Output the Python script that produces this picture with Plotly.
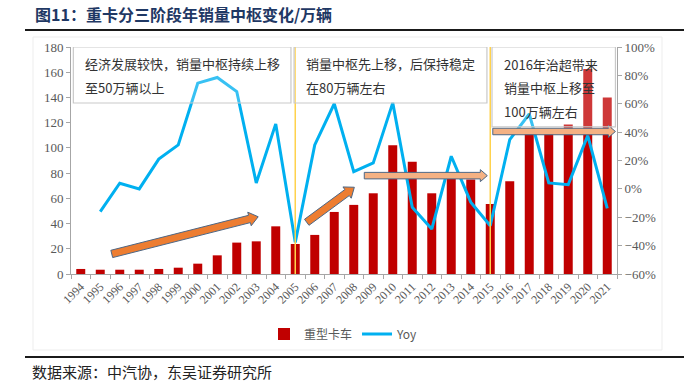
import math
import plotly.graph_objects as go

years = list(range(1994, 2022))
sales = [4.0, 3.4, 3.4, 3.4, 4.0, 5.0, 8.2, 14.8, 24.9, 25.9,
         37.8, 23.8, 31.0, 49.2, 54.8, 64.0, 102.0, 89.0, 64.0, 77.5,
         75.0, 55.5, 73.5, 111.5, 114.5, 118.5, 162.5, 140.0]
yoy = [None, -0.16, 0.04, 0.0, 0.21, 0.31, 0.745, 0.785, 0.686, 0.042,
       0.458, -0.377, 0.31, 0.60, 0.122, 0.183, 0.606, -0.13, -0.283, 0.23,
       -0.094, -0.26, 0.347, 0.528, 0.042, 0.03, 0.376, -0.137]
tick_labels = [str(y) for y in years]

# plot geometry (pixels)
L, R, T, B = 71, 67, 47, 110
W, H = 684, 384
PW, PH = W - L - R, H - T - B
XR = [1993.5, 2021.5]
YR = [0, 180]
PXX = PW / (XR[1] - XR[0])
PXY = PH / (YR[1] - YR[0])


def px_x(p):
    return (p - L) / PW


def px_y(p):
    return (H - B - p) / PH


fig = go.Figure()
fig.add_trace(go.Bar(x=years, y=sales, name="重型卡车", marker_color="#C00000",
                     marker_line_width=0))
fig.add_trace(go.Scatter(x=years, y=yoy, name="Yoy", yaxis="y2", mode="lines",
                         line=dict(color="#00B0F0", width=3)))

shapes = []
# chart faint border
shapes.append(dict(type="rect", xref="paper", yref="paper",
                   x0=px_x(33), x1=px_x(662), y0=px_y(350), y1=px_y(37),
                   line=dict(color="#EDEDED", width=1), layer="below"))
# top / bottom rules
for yy in (30, 357):
    shapes.append(dict(type="line", xref="paper", yref="paper",
                       x0=px_x(25), x1=px_x(684), y0=px_y(yy), y1=px_y(yy),
                       line=dict(color="#1a1a1a", width=2)))
# stage dividers
for yr in (2005, 2015):
    shapes.append(dict(type="line", xref="x", yref="y", x0=yr, x1=yr, y0=0, y1=180,
                       line=dict(color="#FFD24D", width=1.5)))


def arrow_path(x0, y0, x1, y1, body=7, hw=13, hl=8):
    dx = (x1 - x0) * PXX
    dy = (y1 - y0) * PXY
    ln = math.hypot(dx, dy)
    ux, uy = dx / ln, dy / ln
    nx, ny = -uy, ux
    pts_px = [
        (nx * body / 2, ny * body / 2),
        (dx - ux * hl + nx * body / 2, dy - uy * hl + ny * body / 2),
        (dx - ux * hl + nx * hw / 2, dy - uy * hl + ny * hw / 2),
        (dx, dy),
        (dx - ux * hl - nx * hw / 2, dy - uy * hl - ny * hw / 2),
        (dx - ux * hl - nx * body / 2, dy - uy * hl - ny * body / 2),
        (-nx * body / 2, -ny * body / 2),
    ]
    pts = [(x0 + px / PXX, y0 + py / PXY) for px, py in pts_px]
    return "M " + " L ".join(f"{a:.4f},{b:.4f}" for a, b in pts) + " Z"


arrows = [
    (1995.59, 15.9, 2003.1, 45.4, "#ED7D31", 7.5, 14, 9),
    (2005.59, 41.0, 2008.03, 68.8, "#ED7D31", 7.5, 14, 9),
    (2008.54, 78.0, 2014.85, 78.0, "#F4B183", 6.5, 12, 7),
    (2015.13, 113.0, 2021.42, 113.0, "#F4B183", 6.5, 12, 7),
]
for x0, y0, x1, y1, c, bw, hw, hl in arrows:
    shapes.append(dict(type="path", xref="x", yref="y",
                       path=arrow_path(x0, y0, x1, y1, bw, hw, hl),
                       fillcolor=c, line=dict(color="#4d6785", width=1)))

# text boxes
boxes = [
    (1993.62, 2004.78, 135.6, 180),
    (2004.94, 2014.83, 135.6, 180),
    (2015.09, 2021.42, 116.6, 180),
]
for x0, x1, y0, y1 in boxes:
    shapes.append(dict(type="rect", xref="x", yref="y", x0=x0, x1=x1, y0=y0, y1=y1,
                       fillcolor="rgba(255,255,255,0.22)",
                       line=dict(color="#C9C9C9", width=1.2)))

box_text = [
    (1994.12, 167.3, "经济发展较快，销量中枢持续上移"),
    (1994.12, 147.5, "至50万辆以上"),
    (2005.45, 167.3, "销量中枢先上移，后保持稳定"),
    (2005.45, 147.5, "在80万辆左右"),
    (2015.6, 166.5, "2016年治超带来"),
    (2015.6, 148.0, "销量中枢上移至"),
    (2015.6, 129.0, "100万辆左右"),
]
annotations = []
for x, y, t in box_text:
    annotations.append(dict(x=x, y=y, xref="x", yref="y", text=t, showarrow=False,
                            xanchor="left", yanchor="middle",
                            font=dict(family="Noto Sans CJK SC", size=13, color="#333333")))

annotations.append(dict(x=px_x(30), y=px_y(371), xref="paper", yref="paper",
                        text="数据来源：中汽协，东吴证券研究所", showarrow=False,
                        xanchor="left", yanchor="middle",
                        font=dict(family="Noto Sans CJK SC", size=15, color="#222222")))

fig.update_layout(
    width=W, height=H,
    margin=dict(l=L, r=R, t=T, b=B, autoexpand=False),
    paper_bgcolor="white", plot_bgcolor="white",
    title=dict(text="<b>图11：重卡分三阶段年销量中枢变化/万辆</b>",
               x=35 / W, xanchor="left", xref="container",
               y=1 - 15 / H, yanchor="middle", yref="container",
               font=dict(family="Noto Sans CJK SC", size=16, color="#1F3864")),
    bargap=0.54,
    showlegend=True,
    legend=dict(orientation="h", x=0.5, xanchor="center", y=px_y(334),
                yanchor="middle", font=dict(family="Noto Sans CJK SC", size=12, color="#595959"),
                bgcolor="rgba(0,0,0,0)"),
    xaxis=dict(range=XR, tickvals=years, ticktext=tick_labels, tickangle=-45,
               ticks="", showline=True, linecolor="#A6A6A6", linewidth=1,
               showgrid=False, zeroline=False, automargin=False,
               tickfont=dict(family="Liberation Serif", size=12, color="#595959"),
               minor=dict(tickvals=[y - 0.5 for y in years] + [years[-1] + 0.5],
                          ticks="outside", ticklen=4, tickcolor="#A6A6A6", showgrid=False)),
    yaxis=dict(range=YR, dtick=20, ticks="outside", ticklen=4, tickcolor="#A6A6A6",
               showline=True, linecolor="#A6A6A6", showgrid=False, zeroline=False,
               automargin=False,
               tickfont=dict(family="Liberation Serif", size=13, color="#595959")),
    yaxis2=dict(range=[-0.6, 1.0], dtick=0.2, tickformat=".0%", overlaying="y", side="right",
                ticks="outside", ticklen=4, tickcolor="#A6A6A6", automargin=False,
                showline=True, linecolor="#A6A6A6", showgrid=False, zeroline=False,
                tickfont=dict(family="Liberation Serif", size=13, color="#595959")),
    shapes=shapes,
    annotations=annotations,
)

fig.write_html("out.html", config={"displayModeBar": False},
               post_script="document.body.style.margin='0';document.body.style.overflow='hidden';")
